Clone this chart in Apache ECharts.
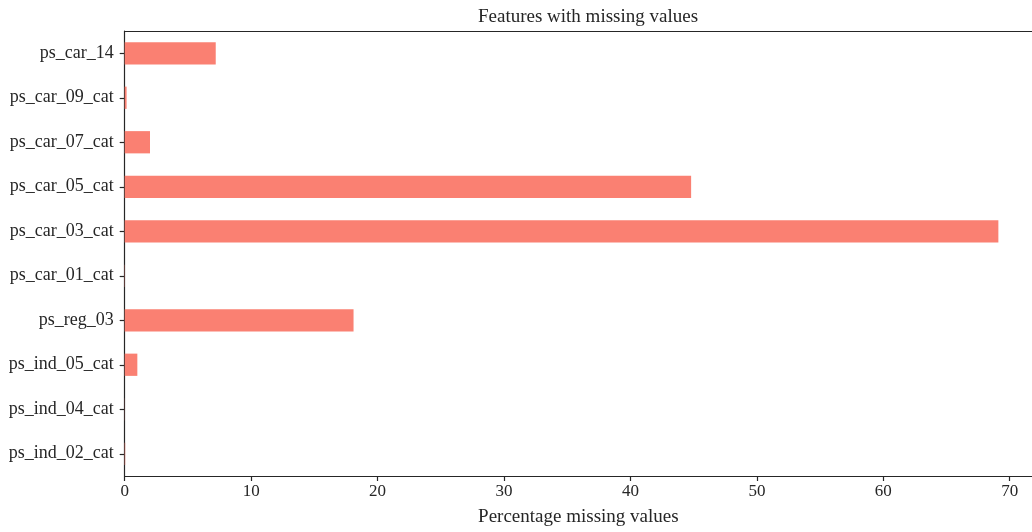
<!DOCTYPE html>
<html>
<head>
<meta charset="utf-8">
<script src="https://cdn.jsdelivr.net/npm/echarts@6/dist/echarts.min.js"></script>
<style>
  html, body { margin: 0; padding: 0; background: #ffffff; }
  #chart { width: 1032px; height: 532px; }
</style>
</head>
<body>
<div id="chart"></div>
<script>
// Features, listed bottom to top as they appear on the category axis
const features = [
  'ps_ind_02_cat', 'ps_ind_04_cat', 'ps_ind_05_cat', 'ps_reg_03',
  'ps_car_01_cat', 'ps_car_03_cat', 'ps_car_05_cat', 'ps_car_07_cat',
  'ps_car_09_cat', 'ps_car_14'
];
// Share of missing values per feature, in percent
const missingPct = [0.04, 0.01, 1.0, 18.1, 0.02, 69.1, 44.8, 2.0, 0.15, 7.2];
const xTicks = [0, 10, 20, 30, 40, 50, 60, 70];

const FONT = '"Liberation Serif", "DejaVu Serif", serif';
const INK = '#262626';
// visible end of the value axis at the right edge of the canvas
const xMax = 71.76;

const chart = echarts.init(document.getElementById('chart'), null, { renderer: 'canvas' });
chart.setOption({
  animation: false,
  backgroundColor: '#ffffff',
  title: {
    text: 'Features with missing values',
    left: 583, top: 3, textAlign: 'center',
    textStyle: { fontFamily: FONT, fontSize: 19, fontWeight: 'normal', color: INK }
  },
  grid: { left: 124.7, right: 0, top: 31, bottom: 55, containLabel: false },
  xAxis: [{
    type: 'value', position: 'bottom', min: 0, max: xMax, interval: 10,
    name: 'Percentage missing values', nameLocation: 'middle', nameGap: 32,
    nameTextStyle: { fontFamily: FONT, fontSize: 19, color: INK },
    axisLine: { show: true, lineStyle: { color: INK, width: 1.2 } },
    axisTick: { show: true, inside: false, length: 5, lineStyle: { color: INK, width: 1.2 } },
    axisLabel: {
      fontFamily: FONT, fontSize: 17, color: INK, margin: 7, showMaxLabel: false,
      formatter: v => (xTicks.indexOf(v) >= 0 ? String(v) : '')
    },
    splitLine: { show: false }
  }, {
    type: 'value', position: 'top', min: 0, max: xMax,
    axisLine: { show: true, onZero: false, lineStyle: { color: INK, width: 1.2 } },
    axisTick: { show: false }, axisLabel: { show: false }, splitLine: { show: false }
  }],
  yAxis: {
    type: 'category', data: features, boundaryGap: true,
    axisLine: { show: true, lineStyle: { color: INK, width: 1.2 } },
    axisTick: { show: true, alignWithLabel: true, inside: false, length: 5, lineStyle: { color: INK, width: 1.2 } },
    axisLabel: { fontFamily: FONT, fontSize: 18, color: INK, margin: 11 },
    splitLine: { show: false }
  },
  series: [{
    type: 'bar', xAxisIndex: 0, data: missingPct, barWidth: '50%',
    itemStyle: { color: '#FA8072' }
  }]
});
</script>
</body>
</html>
